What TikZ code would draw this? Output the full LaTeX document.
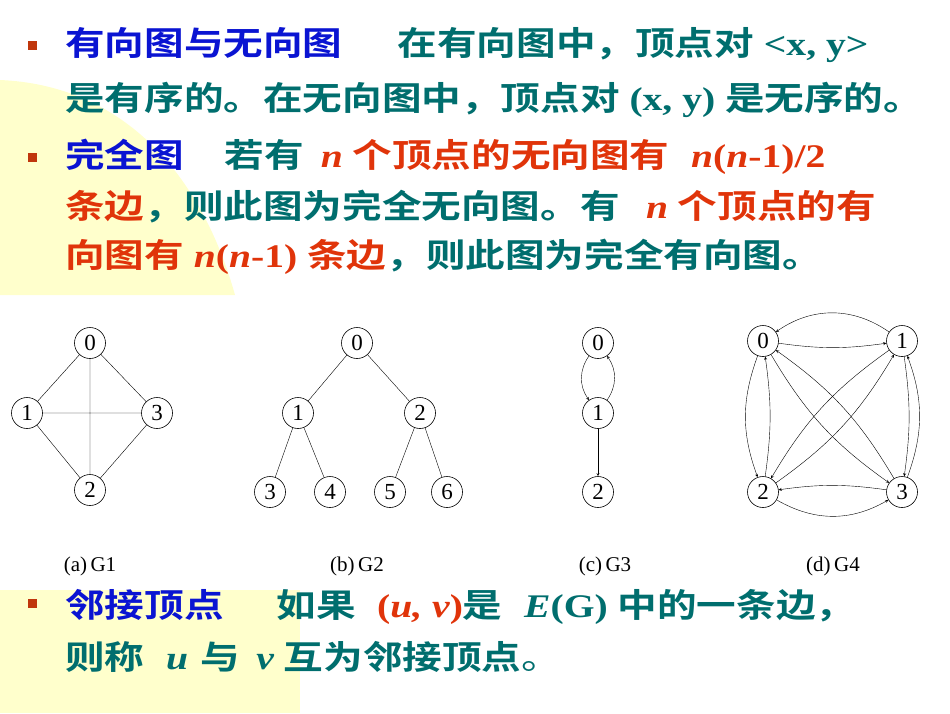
\documentclass[tikz,border=0pt]{standalone}
\usepackage{fontspec}
\usepackage{graphicx}
\setmainfont{Liberation Serif}
\newfontfamily\cjk{Noto Sans CJK SC}[BoldFont=* Bold]
\definecolor{tb}{HTML}{0A14D2}
\definecolor{tt}{HTML}{006E6E}
\definecolor{tr}{HTML}{E0340A}
\definecolor{yl}{HTML}{FFFFCC}
\definecolor{bl}{HTML}{C0360C}
\newcommand{\C}[1]{{\cjk\bfseries #1}}
\newcommand{\B}[1]{{\bfseries #1}}
\newcommand{\W}[1]{\scalebox{1.2}[1]{#1}}
\begin{document}
\begin{tikzpicture}[x=1pt,y=-1pt,
  vx/.style={circle,draw,semithick,minimum size=31pt,inner sep=0pt,font=\fontsize{23}{23}\selectfont},
  ln/.style={anchor=west,inner sep=0pt,font=\fontsize{33}{38}\selectfont},
  captext/.style={font=\fontsize{21}{22}\selectfont},
  bul/.style={fill=bl,minimum size=9pt,inner sep=0pt},
  ar/.style={->,>=stealth,thin}]
\useasboundingbox (0,0) rectangle (950,713);
\fill[yl] (0,80) .. controls (120,85) and (200,170) .. (235,295) -- (0,295) -- cycle;
\fill[yl] (0,590) rectangle (300,713);
% bullets
\node[bul] (b1) at (32,45) {};
\node[bul] (b2) at (32,157) {};
\node[bul] (b3) at (32,603) {};
% text
\node[ln] (t1) at (65,45) {\W{\color{tb}\C{有向图与无向图}\hspace{46pt}\color{tt}\C{在有向图中，顶点对} \B{<x, y>}}};
\node[ln] (t2) at (65,100) {\W{\color{tt}\C{是有序的。在无向图中，顶点对} \B{(x, y)} \C{是无序的。}}};
\node[ln] (t3) at (65,157) {\W{\color{tb}\C{完全图}\hspace{34pt}\color{tt}\C{若有}\hspace{14pt}\color{tr}\B{\itshape n} \C{个顶点的无向图有}\hspace{18pt}\B{\itshape n\upshape(\itshape n\upshape -1)/2}}};
\node[ln] (t4) at (65,207) {\W{\color{tr}\C{条边}\color{tt}\C{，则此图为完全无向图。有}\hspace{22pt}\color{tr}\B{\itshape n} \C{个顶点的有}}};
\node[ln] (t5) at (65,257) {\W{\color{tr}\C{向图有} \B{\itshape n\upshape(\itshape n\upshape -1)} \C{条边}\color{tt}\C{，则此图为完全有向图。}}};
\node[ln] (t6) at (65,607) {\W{\color{tb}\C{邻接顶点}\hspace{44pt}\color{tt}\C{如果}\hspace{18pt}\color{tr}\B{(\itshape u, v\upshape)}\color{tt} \C{是}\hspace{18pt}\B{\itshape E\upshape(G)} \C{中的一条边，}}};
\node[ln] (t7) at (65,657) {\W{\color{tt}\C{则称}\hspace{18pt}\B{\itshape u}\hspace{10pt}\C{与}\hspace{14pt}\B{\itshape v} \C{互为邻接顶点}{\cjk 。}}};
% G1
\node[vx] (a0) at (90,343) {0};
\node[vx] (a1) at (27,413) {1};
\node[vx] (a3) at (157,413) {3};
\node[vx] (a2) at (90,490) {2};
\draw (a0)--(a1) (a0)--(a3) (a0)--(a2) (a1)--(a3) (a1)--(a2) (a3)--(a2);
% G2
\node[vx] (b0) at (357,343) {0};
\node[vx] (bb1) at (298,413) {1};
\node[vx] (bb2) at (420,413) {2};
\node[vx] (bb3) at (270,492) {3};
\node[vx] (bb4) at (330,492) {4};
\node[vx] (bb5) at (390,492) {5};
\node[vx] (bb6) at (447,492) {6};
\draw (b0)--(bb1) (b0)--(bb2) (bb1)--(bb3) (bb1)--(bb4) (bb2)--(bb5) (bb2)--(bb6);
% G3
\node[vx] (c0) at (598,343) {0};
\node[vx] (c1) at (598,413) {1};
\node[vx] (c2) at (598,492) {2};
\draw[ar] (c0) to[bend right=35] (c1);
\draw[ar] (c1) to[bend right=35] (c0);
\draw[ar] (c1) -- (c2);
% G4
\node[vx] (d0) at (763,341) {0};
\node[vx] (d1) at (902,341) {1};
\node[vx] (d2) at (763,492) {2};
\node[vx] (d3) at (902,492) {3};
\draw[ar] (d0) to[bend right=8] (d1);
\draw[ar] (d1) to[bend right=35] (d0);
\draw[ar] (d0) to[bend right=20] (d2);
\draw[ar] (d2) to[bend right=8] (d0);
\draw[ar] (d1) to[bend left=8] (d3);
\draw[ar] (d3) to[bend right=20] (d1);
\draw[ar] (d2) to[bend right=30] (d3);
\draw[ar] (d3) to[bend right=8] (d2);
\draw[ar] (d0) to[bend right=12] (d3);
\draw[ar] (d3) to[bend right=12] (d0);
\draw[ar] (d1) to[bend right=12] (d2);
\draw[ar] (d2) to[bend right=12] (d1);
% captions
\node[captext] (ca) at (90,566) {(a)\,G1};
\node[captext] (cb) at (357,566) {(b)\,G2};
\node[captext] (cc) at (605,566) {(c)\,G3};
\node[captext] (cd) at (833,566) {(d)\,G4};
\end{tikzpicture}
\end{document}
